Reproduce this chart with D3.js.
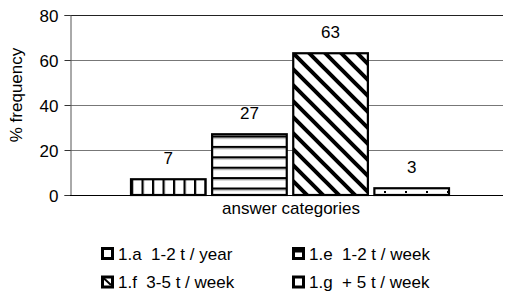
<!DOCTYPE html>
<html><head><meta charset="utf-8">
<script src="https://cdn.jsdelivr.net/npm/d3@7/dist/d3.min.js"></script>
<style>body{margin:0;background:#fff}svg{display:block;font-family:"Liberation Sans",Arial,sans-serif}</style>
</head><body><svg id="c" width="506" height="297"></svg>
<script>
const series = ["1.a  1-2 t / year", "1.e  1-2 t / week", "1.f  3-5 t / week", "1.g  + 5 t / week"];
const values = [7, 27, 63, 3];
const yTicks = [0, 20, 40, 60, 80];
const category = "answer categories";
const yTitle = "% frequency";

const FS = 17;
const svg = d3.select("#c");
const m = {l: 70, r: 503, t: 15, b: 195};
const y = d3.scaleLinear().domain([0, 80]).range([m.b, m.t]);
const x = d3.scaleBand().domain(series).range([131, 449]).paddingInner(0.08).paddingOuter(0);

const defs = svg.append("defs");
// vertical lines
let p = defs.append("pattern").attr("id","p0").attr("patternUnits","userSpaceOnUse").attr("width",10.5).attr("height",10).attr("x",131);
p.append("rect").attr("width",10.5).attr("height",10).attr("fill","#fff");
p.append("rect").attr("x",0).attr("width",2.2).attr("height",10).attr("fill","#000");
// horizontal lines
p = defs.append("pattern").attr("id","p1").attr("patternUnits","userSpaceOnUse").attr("width",10).attr("height",10.4).attr("y",135.5);
p.append("rect").attr("width",10).attr("height",10.4).attr("fill","#fff");
p.append("rect").attr("y",0).attr("width",10).attr("height",2.2).attr("fill","#000");
p.append("rect").attr("y",2.2).attr("width",10).attr("height",1).attr("fill","#999");
// diagonal
const P = 16;
p = defs.append("pattern").attr("id","p2").attr("patternUnits","userSpaceOnUse").attr("width",P).attr("height",P).attr("x",293).attr("y",53);
p.append("rect").attr("width",P).attr("height",P).attr("fill","#fff");
p.append("path").attr("d",`M-4,-4L${P+4},${P+4}M-4,${P-4}L4,${P+4}M${P-4},-4L${P+4},4`).attr("stroke","#000").attr("stroke-width",4);
// dots
p = defs.append("pattern").attr("id","p3").attr("patternUnits","userSpaceOnUse").attr("width",21).attr("height",8).attr("x",384).attr("y",190);
p.append("rect").attr("width",21).attr("height",8).attr("fill","#fff");
p.append("rect").attr("x",0).attr("y",1).attr("width",2).attr("height",2).attr("fill","#000");

// gridlines
svg.append("g").selectAll("line").data(yTicks.filter(d=>d>0)).join("line")
  .attr("x1",m.l).attr("x2",m.r).attr("y1",d=>y(d)+0.5).attr("y2",d=>y(d)+0.5)
  .attr("stroke",d=>d===80?"#222":"#777").attr("stroke-width",1);

// y axis
const ya = svg.append("g").attr("transform",`translate(${m.l+0.5},0)`)
  .call(d3.axisLeft(y).tickValues(yTicks).tickSize(6).tickPadding(6));
ya.select(".domain").attr("stroke","#555");
ya.selectAll(".tick line").attr("stroke","#333");
ya.selectAll("text").attr("font-size",FS).attr("fill","#000").attr("font-family","Liberation Sans, Arial, sans-serif").attr("dy","0.36em");

// baseline
svg.append("line").attr("x1",m.l).attr("x2",m.r).attr("y1",y(0)+0.5).attr("y2",y(0)+0.5).attr("stroke","#000");

// bars
svg.append("g").selectAll("rect").data(values).join("rect")
  .attr("x",(d,i)=>x(series[i])).attr("width",x.bandwidth())
  .attr("y",d=>y(d)).attr("height",d=>y(0)-y(d))
  .attr("fill",(d,i)=>`url(#p${i})`).attr("stroke","#000").attr("stroke-width",2.2);

// value labels
svg.append("g").selectAll("text").data(values).join("text")
  .attr("x",(d,i)=>x(series[i])+x.bandwidth()/2).attr("y",d=>y(d)-15)
  .attr("text-anchor","middle").attr("font-size",FS).text(d=>d);

// x label
svg.append("text").attr("x",291).attr("y",214).attr("text-anchor","middle").attr("font-size",FS).text(category);

// y title
svg.append("text").attr("transform","translate(22,95) rotate(-90)").attr("text-anchor","middle").attr("font-size",FS).text(yTitle);

// legend
const lx = [101, 292], ly = [253.5, 282];
const lg = svg.append("g").selectAll("g").data(series).join("g")
  .attr("transform",(d,i)=>`translate(${lx[i%2]},${ly[Math.floor(i/2)]})`);
lg.append("rect").attr("x",1.5).attr("y",-5).attr("width",10).attr("height",10)
  .attr("fill","#fff").attr("stroke","#000").attr("stroke-width",3);
lg.filter((d,i)=>i===1).append("rect").attr("x",1.5).attr("y",-4).attr("width",10).attr("height",3).attr("fill","#000");
lg.filter((d,i)=>i===2).append("path").attr("d","M2.5,-4L10,3").attr("stroke","#000").attr("stroke-width",2);
lg.append("text").attr("x",17).attr("y",0).attr("dy","0.36em").attr("font-size",FS).attr("xml:space","preserve")
  .style("white-space","pre").text(d=>d);
</script></body></html>
